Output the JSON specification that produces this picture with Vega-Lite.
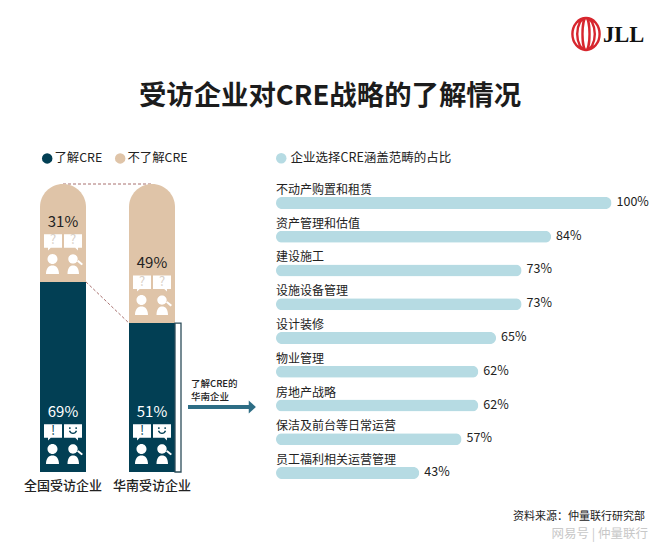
{
"$schema":"https://vega.github.io/schema/vega-lite/v6.json",
"width":660,"height":547,"padding":0,"autosize":{"type":"none"},"background":"white",
"config":{"view":{"stroke":null},"font":"Noto Sans CJK SC","text":{"font":"Noto Sans CJK SC"}},
"title":{"text":"受访企业对CRE战略的了解情况","anchor":"middle","frame":"group","font":"Noto Sans CJK SC","fontSize":27.4,"fontWeight":700,"color":"#1c1c1c","offset":0,"baseline":"middle","dy":124},
"datasets":{
"segments":[
{"group":"全国受访企业","segment":"了解CRE","share":"69%","start":0,"end":66,"leftGlyph":"!"},
{"group":"全国受访企业","segment":"不了解CRE","share":"31%","start":66,"end":100,"leftGlyph":"?"},
{"group":"华南受访企业","segment":"了解CRE","share":"51%","start":0,"end":51.7,"leftGlyph":"!"},
{"group":"华南受访企业","segment":"不了解CRE","share":"49%","start":51.7,"end":100,"leftGlyph":"?"}],
"scope":[
{"category":"不动产购置和租赁","bar":100,"share":"100%","series":"企业选择CRE涵盖范畴的占比"},
{"category":"资产管理和估值","bar":82,"share":"84%","series":"企业选择CRE涵盖范畴的占比"},
{"category":"建设施工","bar":73.2,"share":"73%","series":"企业选择CRE涵盖范畴的占比"},
{"category":"设施设备管理","bar":73.2,"share":"73%","series":"企业选择CRE涵盖范畴的占比"},
{"category":"设计装修","bar":65.6,"share":"65%","series":"企业选择CRE涵盖范畴的占比"},
{"category":"物业管理","bar":60.3,"share":"62%","series":"企业选择CRE涵盖范畴的占比"},
{"category":"房地产战略","bar":60.3,"share":"62%","series":"企业选择CRE涵盖范畴的占比"},
{"category":"保洁及前台等日常运营","bar":55.3,"share":"57%","series":"企业选择CRE涵盖范畴的占比"},
{"category":"员工福利相关运营管理","bar":42.7,"share":"43%","series":"企业选择CRE涵盖范畴的占比"}]
},
"layer":[
{"data":{"values":[{"edge":"全国受访企业","level":66},{"edge":"华南受访企业","level":51.7}]},
 "mark":{"type":"line","stroke":"#a8716f","strokeWidth":1,"strokeDash":[3,2]},
 "encoding":{"x":{"field":"edge","type":"nominal","sort":null,"axis":null,"scale":{"type":"point","domain":["全国受访企业","华南受访企业"],"range":[86,129],"padding":0}},
 "y":{"field":"level","type":"quantitative","axis":null,"scale":{"domain":[0,100],"range":[472,184]}}}},
{"data":{"name":"segments"},
 "encoding":{
  "x":{"field":"group","type":"nominal","sort":null,"title":null,"scale":{"type":"band","domain":["全国受访企业","华南受访企业"],"range":[18.5,196.5],"padding":0},
   "axis":{"orient":"bottom","offset":-68,"domain":false,"ticks":false,"labelAngle":0,"labelFontSize":13,"labelFontWeight":500,"labelColor":"#222222","labelPadding":0,"grid":false}},
  "y":{"field":"start","type":"quantitative","axis":null,"scale":{"domain":[0,100],"range":[472,184]}}},
 "layer":[
  {"data":{"values":[{"group":"全国受访企业","start":100},{"group":"华南受访企业","start":100}]},
   "mark":{"type":"line","stroke":"#a8716f","strokeWidth":1,"strokeDash":[3,2]}},
  {"transform":[{"filter":"datum.segment==='不了解CRE'"}],
   "mark":{"type":"bar","size":46,"cornerRadiusTopLeft":23,"cornerRadiusTopRight":23},
   "encoding":{"y2":{"field":"end"},"color":{"field":"segment","type":"nominal","scale":{"domain":["了解CRE","不了解CRE"],"range":["#023f54","#dfc4a8"]},
    "legend":{"orient":"none","legendX":41,"legendY":152,"direction":"horizontal","title":null,"symbolType":"circle","symbolSize":110,"labelFontSize":12.4,"labelColor":"#222222","columnPadding":11,"labelOffset":1}}}},
  {"transform":[{"filter":"datum.segment==='了解CRE'"}],
   "mark":{"type":"bar","size":46},
   "encoding":{"y2":{"field":"end"},"color":{"field":"segment","type":"nominal","scale":{"domain":["了解CRE","不了解CRE"],"range":["#023f54","#dfc4a8"]},
    "legend":{"orient":"none","legendX":41,"legendY":152,"direction":"horizontal","title":null,"symbolType":"circle","symbolSize":110,"labelFontSize":12.4,"labelColor":"#222222","columnPadding":11,"labelOffset":1}}}},
  {"transform":[{"filter":"datum.group==='华南受访企业' && datum.segment==='了解CRE'"}],
   "mark":{"type":"bar","size":6,"xOffset":26,"fill":"transparent","stroke":"#2d4d5a","strokeWidth":1.3},
   "encoding":{"y2":{"field":"end"}}},
  {"mark":{"type":"text","fontSize":15,"align":"center","baseline":"middle","yOffset":-60},
   "encoding":{"text":{"field":"share"},"color":{"condition":{"test":"datum.segment==='了解CRE'","value":"#ffffff"},"value":"#222222"}}},
  {"mark":{"type":"point","filled":true,"opacity":1,"fill":"#ffffff","stroke":null,"size":324,"xOffset":-10,"yOffset":-40.5,"shape":"M-1,-0.8L1,-0.8L1,0.7L-0.25,0.7L-0.55,1L-0.55,0.7L-1,0.7Z"}},
  {"mark":{"type":"point","filled":true,"opacity":1,"fill":"#ffffff","stroke":null,"size":324,"xOffset":10,"yOffset":-40.5,"shape":"M-1,-0.8L1,-0.8L1,0.7L0.55,0.7L0.55,1L0.25,0.7L-1,0.7Z"}},
  {"mark":{"type":"text","fontSize":13,"align":"center","baseline":"middle","xOffset":-10,"yOffset":-41.5},
   "encoding":{"text":{"field":"leftGlyph"},"color":{"condition":{"test":"datum.segment==='了解CRE'","value":"#023f54"},"value":"#d8d0c6"}}},
  {"transform":[{"filter":"datum.segment==='不了解CRE'"}],
   "mark":{"type":"text","fontSize":13,"align":"center","baseline":"middle","xOffset":10,"yOffset":-41.5,"color":"#d8d0c6","text":"?"}},
  {"transform":[{"filter":"datum.segment==='了解CRE'"}],
   "mark":{"type":"point","filled":false,"opacity":1,"stroke":"#023f54","strokeWidth":1.4,"size":196,"xOffset":10,"yOffset":-42,"shape":"M-0.45,-0.4L-0.45,-0.15M0.45,-0.4L0.45,-0.15M-0.5,0.1C-0.3,0.6 0.3,0.6 0.5,0.1"}},
  {"mark":{"type":"point","filled":true,"opacity":1,"stroke":null,"fill":"#ffffff","size":400,"xOffset":-10.5,"yOffset":-18,"shape":"M0.5,-0.5A0.5,0.5 0 1 1 -0.5,-0.5A0.5,0.5 0 1 1 0.5,-0.5ZM-0.65,1C-0.65,0.4 -0.35,0.15 0,0.15C0.35,0.15 0.65,0.4 0.65,1Z"}},
  {"mark":{"type":"point","filled":true,"opacity":1,"stroke":null,"fill":"#ffffff","size":400,"xOffset":10.5,"yOffset":-18,"shape":"M0.42,-0.5A0.47,0.47 0 1 1 -0.52,-0.5A0.47,0.47 0 1 1 0.42,-0.5ZM-0.6,1C-0.6,0.4 -0.35,0.15 -0.05,0.15C0.3,0.15 0.55,0.4 0.55,1ZM0.35,-0.25L0.5,-0.38L0.95,0L0.8,0.13Z"}}
 ]},
{"data":{"values":[{"stop":"了解CRE的华南企业"},{"stop":"企业选择CRE涵盖范畴"}]},
 "encoding":{"x":{"field":"stop","type":"nominal","sort":null,"axis":null,"scale":{"type":"point","domain":["了解CRE的华南企业","企业选择CRE涵盖范畴"],"range":[188,250],"padding":0}},"y":{"value":407}},
 "layer":[
  {"mark":{"type":"line","stroke":"#2d6d85","strokeWidth":4}},
  {"transform":[{"filter":"datum.stop==='企业选择CRE涵盖范畴'"}],
   "mark":{"type":"point","filled":true,"opacity":1,"fill":"#2d6d85","stroke":null,"size":169,"shape":"M-0.5,-1L0.6,0L-0.5,1Z","xOffset":2}}
 ]},
{"data":{"values":[{"note":"了解CRE的\n华南企业"}]},
 "mark":{"type":"text","fontSize":9.5,"align":"left","baseline":"middle","lineBreak":"\n","lineHeight":13,"color":"#222222","fontWeight":500},
 "encoding":{"x":{"value":191},"y":{"value":384},"text":{"field":"note"}}},
{"data":{"name":"scope"},
 "encoding":{
  "x":{"field":"bar","type":"quantitative","axis":null,"scale":{"domain":[0,100],"range":[276,611.5]}},
  "y":{"field":"category","type":"nominal","sort":null,"axis":null,"scale":{"type":"band","domain":["不动产购置和租赁","资产管理和估值","建设施工","设施设备管理","设计装修","物业管理","房地产战略","保洁及前台等日常运营","员工福利相关运营管理"],"range":[186,490],"padding":0}}},
 "layer":[
  {"mark":{"type":"bar","size":12,"cornerRadius":6},
   "encoding":{"color":{"field":"series","type":"nominal","scale":{"domain":["企业选择CRE涵盖范畴的占比"],"range":["#b6dbe3"]},
    "legend":{"orient":"none","legendX":275,"legendY":152,"direction":"horizontal","title":null,"symbolType":"circle","symbolSize":110,"labelFontSize":12.5,"labelColor":"#222222","labelOffset":3,"labelLimit":320}}}},
  {"mark":{"type":"text","fontSize":12,"align":"left","baseline":"middle","color":"#222222","dy":-13},
   "encoding":{"x":{"datum":0},"text":{"field":"category"}}},
  {"mark":{"type":"text","fontSize":12.5,"align":"left","baseline":"middle","color":"#222222","dx":5,"dy":-1},
   "encoding":{"text":{"field":"share"}}}
 ]},
{"data":{"values":[{"note":"资料来源：仲量联行研究部"}]},
 "mark":{"type":"text","fontSize":11,"align":"right","baseline":"middle","color":"#222222"},
 "encoding":{"x":{"value":645},"y":{"value":517},"text":{"field":"note"}}},
{"data":{"values":[{"note":"网易号 | 仲量联行"}]},
 "mark":{"type":"text","fontSize":12.5,"align":"right","baseline":"middle","color":"#c8c8c8"},
 "encoding":{"x":{"value":648},"y":{"value":534},"text":{"field":"note"}}},
{"data":{"values":[{"brand":"JLL"}]},
 "mark":{"type":"point","filled":false,"opacity":1,"stroke":"#d7262e","strokeWidth":2.4,"size":1024,"shape":"M0,-1A0.85,1 0 1 1 0,1A0.85,1 0 1 1 0,-1ZM0,-1A0.55,1 0 1 1 0,1A0.55,1 0 1 1 0,-1ZM0,-1A0.22,1 0 1 1 0,1A0.22,1 0 1 1 0,-1Z"},
 "encoding":{"x":{"value":586},"y":{"value":34}}},
{"data":{"values":[{"brand":"JLL"}]},
 "mark":{"type":"text","font":"Liberation Serif","fontWeight":"bold","fontSize":22.5,"align":"left","baseline":"middle","color":"#111111"},
 "encoding":{"x":{"value":603},"y":{"value":35},"text":{"field":"brand"}}}
],
"resolve":{"scale":{"x":"independent","y":"independent","color":"independent"}}
}
